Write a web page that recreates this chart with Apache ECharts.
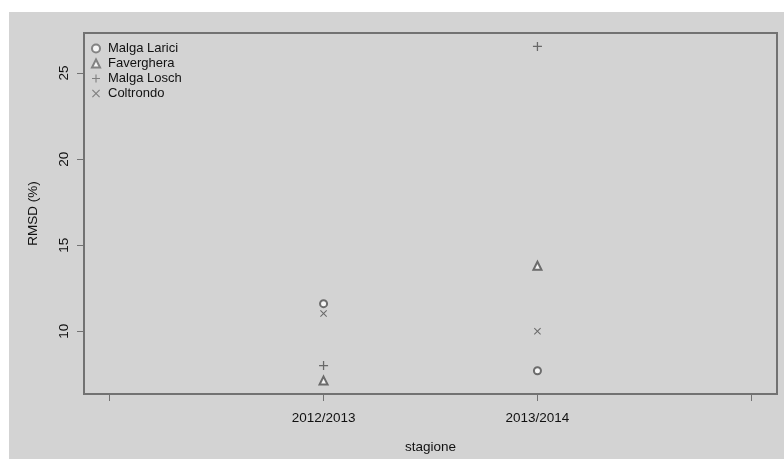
<!DOCTYPE html>
<html>
<head>
<meta charset="utf-8">
<script src="https://cdn.jsdelivr.net/npm/echarts@6/dist/echarts.min.js"></script>
<style>html,body{margin:0;padding:0;background:#fff}#c{width:784px;height:459px}</style>
</head>
<body>
<div id="c"></div>
<script>
var categories = ["2012/2013", "2013/2014"];
var seriesNames = ["Malga Larici", "Faverghera", "Malga Losch", "Coltrondo"];
var larici = [11.6, 7.7];
var faverghera = [7.13, 13.8];
var losch = [8.0, 26.55];
var coltrondo = [11.03, 10.0];
var yTicks = [10, 15, 20, 25];
var xTicks = [1, 2, 3, 4];

var values = [larici, faverghera, losch, coltrondo];
var plusPath = 'path://M4.3,0H5.7V10H4.3ZM0,4.3H10V5.7H0Z';
var crossPath = 'path://M1,0L5,4L9,0L10,1L6,5L10,9L9,10L5,6L1,10L0,9L4,5L0,1Z';
var symbols = ['emptyCircle', 'emptyTriangle', plusPath, crossPath];
var sizes = [7, 8, 9, 7];
var col = '#4d4d4d';
var font = 'Liberation Sans, Arial, sans-serif';

var chart = echarts.init(document.getElementById('c'));
var series = seriesNames.map(function (n, i) {
  return {
    name: n,
    type: 'scatter',
    symbol: symbols[i],
    symbolSize: sizes[i],
    itemStyle: { color: col, borderColor: col, borderWidth: i >= 2 ? 0 : 1 },
    data: values[i].map(function (v, j) { return [j + 2, v]; })
  };
});

chart.setOption({
  backgroundColor: '#ffffff',
  animation: false,
  graphic: [{
    type: 'rect', z: -10, silent: true,
    shape: { x: 9, y: 12, width: 775, height: 447 },
    style: { fill: '#d3d3d3' }
  }],
  grid: {
    left: 84, top: 33, right: 7, bottom: 62,
    show: true, borderColor: '#727272', borderWidth: 2, backgroundColor: 'transparent'
  },
  legend: {
    orient: 'vertical', left: 91, top: 41, padding: 0,
    itemWidth: 8, itemHeight: 8, itemGap: 0,
    itemStyle: { color: '#6a6a6a', borderColor: '#6a6a6a' },
    textStyle: { fontFamily: font, fontSize: 13, lineHeight: 15, color: '#111', padding: [0, 0, 0, 3] },
    data: seriesNames.map(function (n, i) {
      return { name: n, icon: symbols[i] };
    })
  },
  xAxis: {
    type: 'value', min: 0.88, max: 4.12,
    name: 'stagione', nameLocation: 'middle', nameGap: 46,
    nameTextStyle: { fontFamily: font, fontSize: 13.5, color: '#111' },
    axisLine: { show: false },
    splitLine: { show: false },
    axisTick: { show: true, length: 7, lineStyle: { color: '#727272', width: 1 }, customValues: xTicks },
    axisLabel: {
      fontFamily: font, fontSize: 13.5, color: '#111', margin: 17,
      customValues: [2, 3],
      formatter: function (v) { return categories[Math.round(v) - 2] || ''; }
    }
  },
  yAxis: {
    type: 'value', min: 6.35, max: 27.33,
    name: 'RMSD (%)', nameLocation: 'middle', nameGap: 44, nameRotate: 90,
    nameTextStyle: { fontFamily: font, fontSize: 13.5, color: '#111' },
    axisLine: { show: false },
    splitLine: { show: false },
    axisTick: { show: true, length: 7, lineStyle: { color: '#727272', width: 1 }, customValues: yTicks },
    axisLabel: {
      fontFamily: font, fontSize: 13.5, color: '#111', margin: 13,
      rotate: 90, customValues: yTicks
    }
  },
  series: series
});
</script>
</body>
</html>
